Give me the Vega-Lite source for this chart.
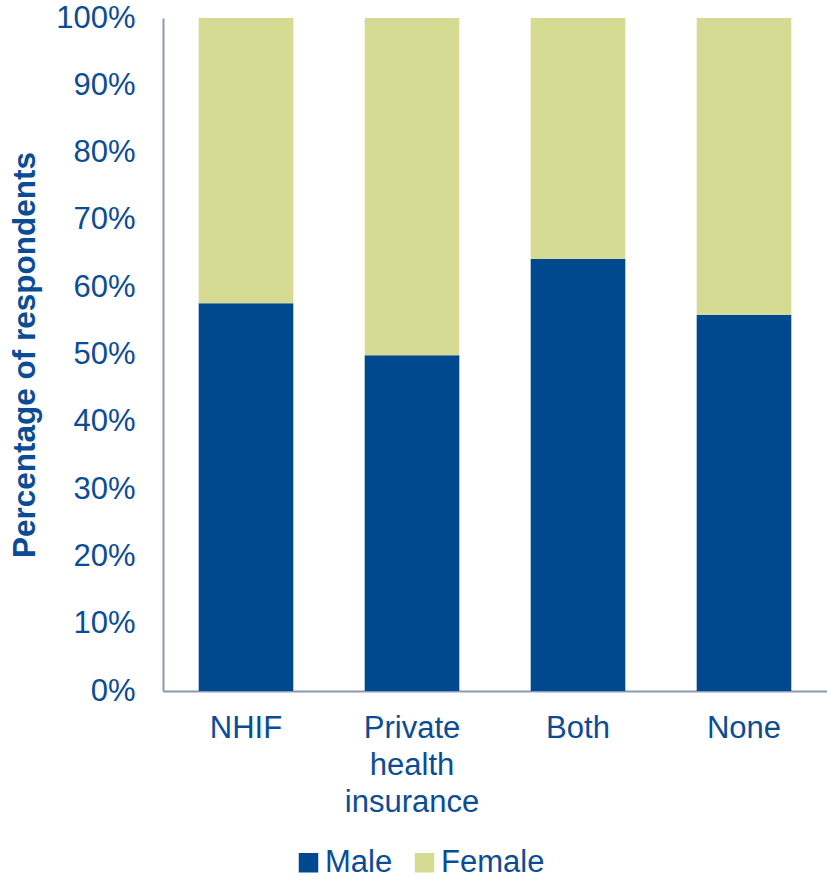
{
  "$schema": "https://vega.github.io/schema/vega-lite/v6.json",
  "width": 664,
  "height": 673,
  "autosize": {"type": "none"},
  "padding": {"left": 163, "top": 18, "right": 0, "bottom": 195},
  "background": "white",
  "data": {
    "values": [
      {"type": "NHIF", "sex": "Male", "pct": 57.6},
      {"type": "NHIF", "sex": "Female", "pct": 42.4},
      {"type": "Private health insurance", "sex": "Male", "pct": 49.9},
      {"type": "Private health insurance", "sex": "Female", "pct": 50.1},
      {"type": "Both", "sex": "Male", "pct": 64.2},
      {"type": "Both", "sex": "Female", "pct": 35.8},
      {"type": "None", "sex": "Male", "pct": 55.9},
      {"type": "None", "sex": "Female", "pct": 44.1}
    ]
  },
  "config": {
    "font": "Liberation Sans",
    "view": {"stroke": null}
  },
  "mark": {"type": "bar"},
  "encoding": {
    "x": {
      "field": "type",
      "type": "nominal",
      "sort": ["NHIF", "Private health insurance", "Both", "None"],
      "scale": {"paddingInner": 0.43, "paddingOuter": 0.215},
      "axis": {
        "title": null,
        "labelAngle": 0,
        "labelFontSize": 31,
        "labelColor": "#0B4C97",
        "labelFont": "Liberation Sans",
        "labelPadding": 22,
        "labelLineHeight": 37,
        "labelBaseline": "top",
        "labelExpr": "datum.label == 'Private health insurance' ? ['Private','health','insurance'] : datum.label",
        "ticks": false,
        "domainColor": "#8D97B5",
        "domainWidth": 2,
        "grid": false
      }
    },
    "y": {
      "field": "pct",
      "type": "quantitative",
      "stack": "zero",
      "scale": {"domain": [0, 100]},
      "axis": {
        "title": "Percentage of respondents",
        "titleFontSize": 31.5,
        "titleFontWeight": "bold",
        "titleColor": "#0B4C97",
        "titleFont": "Liberation Sans",
        "titlePadding": 14,
        "values": [0, 10, 20, 30, 40, 50, 60, 70, 80, 90, 100],
        "labelExpr": "datum.value + '%'",
        "labelFontSize": 31,
        "labelColor": "#0B4C97",
        "labelFont": "Liberation Sans",
        "labelPadding": 28,
        "ticks": false,
        "grid": false,
        "domainColor": "#8D97B5",
        "domainWidth": 2
      }
    },
    "color": {
      "field": "sex",
      "type": "nominal",
      "scale": {"domain": ["Male", "Female"], "range": ["#00498F", "#D5DB93"]},
      "legend": {
        "title": null,
        "orient": "none",
        "direction": "horizontal",
        "legendX": 130,
        "legendY": 829,
        "padding": 0,
        "symbolType": "square",
        "symbolSize": 380,
        "symbolStrokeWidth": 0,
        "symbolOpacity": 1,
        "labelFontSize": 31,
        "labelColor": "#0B4C97",
        "labelFont": "Liberation Sans",
        "labelOffset": 1,
        "columnPadding": 16,
        "labelLimit": 300
      }
    },
    "order": {"field": "sex", "sort": "descending"}
  }
}
